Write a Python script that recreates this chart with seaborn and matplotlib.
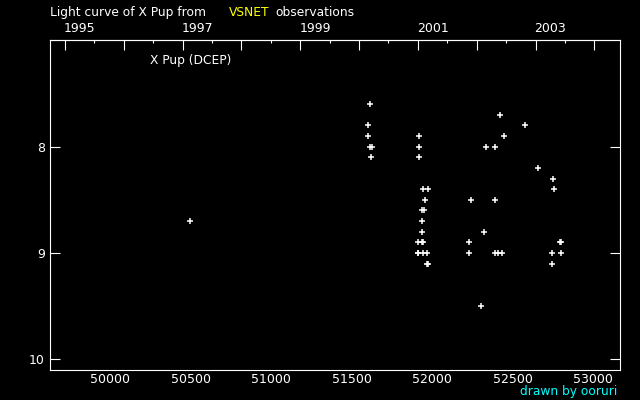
import pandas as pd
import numpy as np
import matplotlib
matplotlib.use('Agg')
import matplotlib.pyplot as plt
import seaborn as sns
from matplotlib.ticker import MultipleLocator, FixedLocator

star = 'X Pup'
var_type = 'DCEP'
jd = [50496, 51610, 51603, 51603, 51610, 51628, 51622,
      51920, 51920, 51920, 51945, 51976, 51957, 51933, 51951, 51933, 51933,
      51914, 51933, 51939, 51908, 51914, 51939, 51964, 51964, 51970,
      52225, 52225, 52243, 52305, 52318, 52336, 52386, 52386, 52392, 52405,
      52417, 52430, 52442, 52573, 52653, 52746, 52746, 52752, 52758,
      52790, 52796, 52796]
mag = [8.7, 7.6, 7.8, 7.9, 8.0, 8.0, 8.1,
       7.9, 8.0, 8.1, 8.4, 8.4, 8.5, 8.6, 8.6, 8.7, 8.8,
       8.9, 8.9, 8.9, 9.0, 9.0, 9.0, 9.0, 9.1, 9.1,
       8.9, 9.0, 8.5, 9.5, 8.8, 8.0, 8.5, 9.0, 8.0, 9.0,
       7.7, 9.0, 7.9, 7.8, 8.2, 9.0, 9.1, 8.3, 8.4,
       8.9, 8.9, 9.0]
years = list(range(1995, 2005))
year_labels = [1995, 1997, 1999, 2001, 2003]

df = pd.DataFrame({'jd': jd, 'mag': mag})

sns.set_theme(style='dark', rc={
    'figure.facecolor': 'black', 'axes.facecolor': 'black',
    'axes.edgecolor': 'white', 'text.color': 'white',
    'xtick.color': 'white', 'ytick.color': 'white',
    'axes.grid': False, 'axes.linewidth': 0.8,
})
plt.rcParams['font.family'] = ['DejaVu Sans']

FS = 8.8
TFS = 9

fig = plt.figure(figsize=(6.4, 4), dpi=100)
W, H = 640, 400
ax = fig.add_axes([50.3 / W, 1 - 370 / H, (620.3 - 50.3) / W, (370 - 40.3) / H])

sns.scatterplot(data=df, x='jd', y='mag', marker='+', color='white',
                s=13, linewidth=1.1, ax=ax, legend=False)

ax.set_xlim(49628, 53167)
ax.set_ylim(10.1, 7.0)
ax.set_xlabel('')
ax.set_ylabel('')

ax.xaxis.set_major_locator(MultipleLocator(500))
ax.xaxis.set_minor_locator(MultipleLocator(100))
ax.set_yticks([8, 9, 10])
ax.set_yticklabels(['8', '9', '10'])
ax.tick_params(axis='x', which='major', direction='in', length=7, width=0.8,
               labelsize=TFS, pad=2, colors='white')
ax.tick_params(axis='x', which='minor', direction='in', length=3, width=0.8,
               colors='white')
ax.tick_params(axis='y', which='major', direction='in', length=7, width=0.8,
               labelsize=TFS, pad=4, right=True, left=True, colors='white')
for sp in ax.spines.values():
    sp.set_color('white')
    sp.set_linewidth(0.8)

# top axis: calendar years
year_jd = [pd.Timestamp(f'{y}-01-01').to_julian_date() - 2400000 for y in years]
half_jd = [(a + b) / 2 for a, b in zip(year_jd[:-1], year_jd[1:])]
sec = ax.secondary_xaxis('top')
sec.xaxis.set_major_locator(FixedLocator(year_jd))
sec.xaxis.set_minor_locator(FixedLocator(half_jd))
sec.tick_params(which='major', direction='in', length=7, width=0.8,
                labeltop=False, colors='white')
sec.tick_params(which='minor', direction='in', length=2, width=0.8,
                colors='white')
sec.spines['top'].set_color('white')
for y in year_labels:
    xj = pd.Timestamp(f'{y}-01-01').to_julian_date() - 2400000 + 93
    ax.text(xj, 1 + 12 / (370 - 40.3), str(y), transform=ax.get_xaxis_transform(),
            ha='center', va='center', fontsize=TFS, color='white')

fig.text(50 / W, 1 - 12.5 / H, f'Light curve of {star} from', fontsize=FS,
         color='white', ha='left', va='center')
fig.text(229 / W, 1 - 12.5 / H, 'VSNET', fontsize=FS, color='#ffff00',
         ha='left', va='center')
fig.text(275 / W, 1 - 12.5 / H, 'observations', fontsize=FS, color='white',
         ha='left', va='center')
fig.text(150 / W, 1 - 60.5 / H, f'{star} ({var_type})', fontsize=FS,
         color='white', ha='left', va='center')
fig.text(617 / W, 1 - 391 / H, 'drawn by ooruri', fontsize=FS, color='#00ffff',
         ha='right', va='center')

fig.savefig('out.png', dpi=100, facecolor='black')
